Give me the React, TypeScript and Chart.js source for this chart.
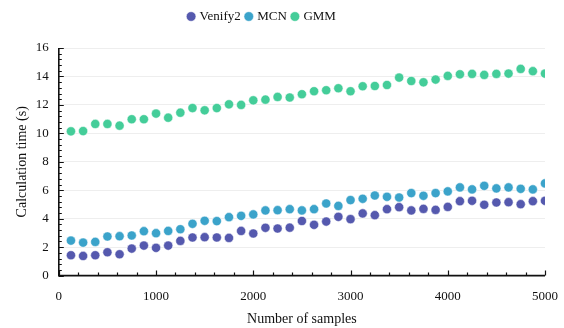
import React, { useEffect, useRef } from "react";
import { Chart, registerables } from "chart.js";

Chart.register(...registerables);

const sampleCounts = [
  125, 250, 375, 500, 625, 750, 875, 1000, 1125, 1250,
  1375, 1500, 1625, 1750, 1875, 2000, 2125, 2250, 2375, 2500,
  2625, 2750, 2875, 3000, 3125, 3250, 3375, 3500, 3625, 3750,
  3875, 4000, 4125, 4250, 4375, 4500, 4625, 4750, 4875, 5000,
];

const venify2Times = [
  1.43, 1.38, 1.43, 1.64, 1.5, 1.9, 2.11, 1.95, 2.11, 2.44,
  2.68, 2.7, 2.68, 2.65, 3.14, 2.96, 3.36, 3.31, 3.37, 3.84,
  3.57, 3.8, 4.13, 3.97, 4.37, 4.25, 4.67, 4.81, 4.58, 4.69,
  4.62, 4.83, 5.23, 5.26, 4.98, 5.14, 5.16, 5.02, 5.23, 5.26,
];

const mcnTimes = [
  2.46, 2.32, 2.37, 2.75, 2.77, 2.82, 3.12, 2.98, 3.14, 3.26,
  3.64, 3.85, 3.83, 4.11, 4.2, 4.3, 4.58, 4.6, 4.67, 4.58,
  4.67, 5.07, 4.9, 5.31, 5.4, 5.63, 5.54, 5.49, 5.8, 5.61,
  5.8, 5.92, 6.2, 6.06, 6.31, 6.13, 6.2, 6.1, 6.06, 6.48,
];

const gmmTimes = [
  10.14, 10.16, 10.66, 10.66, 10.54, 10.99, 10.99, 11.39, 11.1, 11.45,
  11.78, 11.62, 11.78, 12.04, 12.0, 12.32, 12.37, 12.56, 12.52, 12.75,
  12.96, 13.03, 13.17, 12.96, 13.31, 13.33, 13.4, 13.92, 13.68, 13.59,
  13.78, 14.04, 14.15, 14.18, 14.11, 14.18, 14.2, 14.53, 14.37, 14.2,
];

const seriesNames = ["Venify2", "MCN", "GMM"];
const seriesColors = ["#5559ae", "#3ba3ca", "#44cd99"];

const xMajorTicks = [0, 1000, 2000, 3000, 4000, 5000];
const yMajorTicks = [0, 2, 4, 6, 8, 10, 12, 14, 16];

const SERIF = "'Liberation Serif', 'Times New Roman', serif";

const legendGapPlugin = {
  id: "legendGap",
  afterInit(chart: any) {
    const legend = chart.legend;
    if (!legend) return;
    const origFit = legend.fit;
    legend.fit = function () {
      origFit.call(this);
      this.height += 16;
    };
  },
  afterLayout(chart: any) {
    const legend = chart.legend;
    if (!legend) return;
    legend.left -= 17;
    legend.right -= 17;
    legend.top += 1;
    legend.bottom += 1;
  },
};

const axisPlugin = {
  id: "axisTicks",
  afterDraw(chart: any) {
    const { ctx, chartArea, scales } = chart;
    const xs = scales.x;
    const ys = scales.y;
    const left = chartArea.left;
    const bottom = chartArea.bottom;
    ctx.save();
    ctx.strokeStyle = "#111";
    ctx.lineWidth = 1.6;
    ctx.beginPath();
    ctx.moveTo(left, chartArea.top);
    ctx.lineTo(left, bottom);
    ctx.lineTo(chartArea.right, bottom);
    ctx.stroke();
    ctx.lineWidth = 1.2;
    ctx.beginPath();
    for (let v = 0; v <= 5000; v += 200) {
      const px = Math.round(xs.getPixelForValue(v)) + 0.5;
      const len = v % 1000 === 0 ? 5 : 3;
      ctx.moveTo(px, bottom);
      ctx.lineTo(px, bottom - len);
    }
    for (let i = 0; i <= 40; i++) {
      const v = i * 0.4;
      const py = Math.round(ys.getPixelForValue(v)) + 0.5;
      const len = i % 5 === 0 ? 5 : 3;
      ctx.moveTo(left, py);
      ctx.lineTo(left + len, py);
    }
    ctx.stroke();
    ctx.restore();
  },
};

export default function App() {
  const canvasRef = useRef<HTMLCanvasElement | null>(null);

  useEffect(() => {
    if (!canvasRef.current) return;
    Chart.defaults.font.family = SERIF;
    Chart.defaults.color = "#222";
    const allSeries = [venify2Times, mcnTimes, gmmTimes];
    const chart = new Chart(canvasRef.current, {
      type: "scatter",
      data: {
        datasets: allSeries.map((vals, i) => ({
          label: seriesNames[i],
          data: sampleCounts.map((x, j) => ({ x, y: vals[j] })),
          backgroundColor: seriesColors[i],
          borderColor: "#ffffff",
          borderWidth: 0.5,
          pointRadius: 4.6,
          pointHoverRadius: 4.6,
        })),
      },
      options: {
        animation: false,
        responsive: false,
        maintainAspectRatio: false,
        layout: { padding: { left: 14, right: 19, top: 3, bottom: 0 } },
        plugins: {
          legend: {
            position: "top",
            labels: {
              usePointStyle: true,
              pointStyle: "circle",
              boxWidth: 4,
              boxHeight: 6.8,
              padding: 6,
              font: { size: 13, family: SERIF },
              color: "#111",
            },
          },
          tooltip: { enabled: false },
        },
        scales: {
          x: {
            type: "linear",
            min: 0,
            max: 5000,
            afterBuildTicks: (axis: any) => {
              axis.ticks = xMajorTicks.map((v) => ({ value: v }));
            },
            afterFit: (scale: any) => {
              scale.paddingRight = 0;
              scale.paddingLeft = 0;
            },
            grid: { display: false, drawTicks: false },
            border: { display: false },
            ticks: {
              padding: 13,
              font: { size: 13, family: SERIF },
              color: "#111",
              maxRotation: 0,
              callback: (v: any) => String(v),
            },
            title: {
              display: true,
              text: "Number of samples",
              font: { size: 14, family: SERIF },
              color: "#111",
              padding: { top: -6, bottom: 0 },
            },
          },
          y: {
            type: "linear",
            min: 0,
            max: 16,
            afterBuildTicks: (axis: any) => {
              axis.ticks = yMajorTicks.map((v) => ({ value: v }));
            },
            grid: { color: "#eeeeee", lineWidth: 1, drawTicks: false },
            border: { display: false },
            ticks: {
              padding: 10,
              font: { size: 13, family: SERIF },
              color: "#111",
              callback: (v: any) => String(v),
            },
            title: {
              display: true,
              text: "Calculation time (s)",
              font: { size: 14, family: SERIF },
              color: "#111",
              padding: { top: 0, bottom: -5 },
            },
          },
        },
      },
      plugins: [legendGapPlugin, axisPlugin],
    });
    return () => chart.destroy();
  }, []);

  return (
    <div style={{ position: "fixed", left: 0, top: 0, width: 564, height: 328, background: "#fff" }}>
      <canvas ref={canvasRef} width={564} height={328} style={{ width: 564, height: 328 }} />
    </div>
  );
}
